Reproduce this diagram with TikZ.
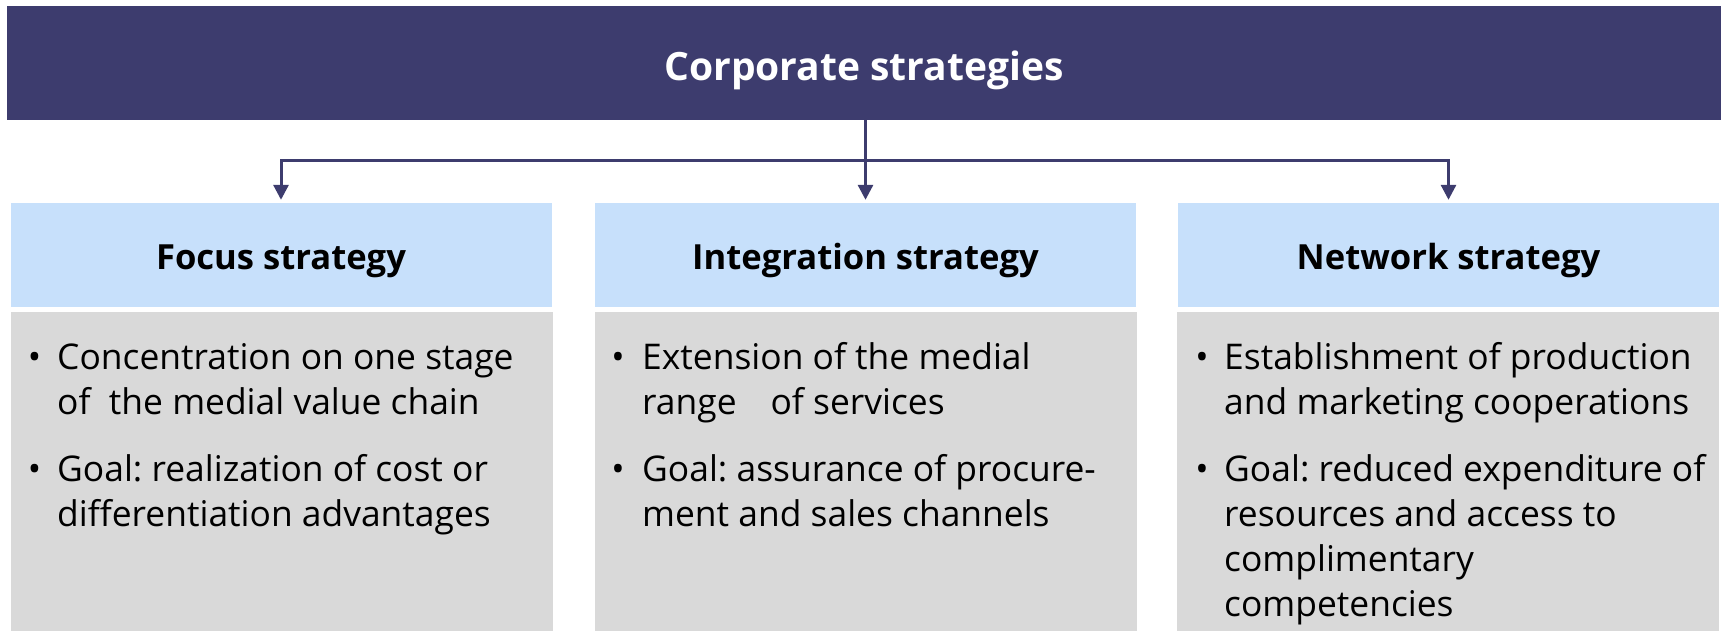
\documentclass[tikz,border=0pt]{standalone}
\usepackage{fontspec}
\setmainfont{Open Sans}
\frenchspacing
\usetikzlibrary{arrows.meta}
\definecolor{navy}{RGB}{61,60,110}
\definecolor{lightblue}{RGB}{199,224,251}
\definecolor{boxgray}{RGB}{217,217,217}
\tikzset{
  topbar/.style={fill=navy, draw=none, inner sep=0pt, minimum width=1714pt, minimum height=114pt,
    text=white, font=\fontsize{39}{45}\selectfont\bfseries, text height=34pt, text depth=0pt},
  headbox/.style={fill=lightblue, draw=none, inner sep=0pt, minimum width=541pt, minimum height=104pt,
    font=\fontsize{34.6}{45}\selectfont\bfseries, text height=28pt, text depth=0pt},
  graybox/.style={fill=boxgray, draw=none, inner sep=0pt, minimum width=542pt, minimum height=330pt, anchor=north},
  bulletmark/.style={inner sep=0pt, anchor=base, font=\fontsize{35.4}{45}\selectfont},
  itemtext/.style={inner sep=0pt, anchor=base west, align=left, font=\fontsize{35.4}{45}\selectfont\frenchspacing},
  conn/.style={draw=navy, line width=3pt, -{Triangle[width=15pt,length=15pt]}},
}
\begin{document}
\begin{tikzpicture}[x=1pt,y=-1pt]
\useasboundingbox (0,0) rectangle (1721,630);
\begin{scope}
\clip (0,0) rectangle (1721,630);
% top bar
\node[topbar] (top) at (864,63) {Corporate strategies};
% heading boxes
\node[headbox] (h1) at (281,255) {Focus strategy};
\node[headbox] (h2) at (865.5,255) {Integration strategy};
\node[headbox] (h3) at (1448.5,255) {Network strategy};
% gray boxes
\node[graybox] (g1) at (281.5,312) {};
\node[graybox] (g2) at (866,312) {};
\node[graybox] (g3) at (1448,312) {};
\end{scope}
% connectors
\coordinate (j) at (865.5,160);
\draw[conn] (top.south -| h2.north) -- ([yshift=3pt]h2.north);
\draw[conn] (j) -| ([yshift=3pt]h1.north);
\draw[conn] (j) -| ([yshift=3pt]h3.north);
% column 1 (item nodes anchored at the baseline of their last line)
\node[bulletmark] (b11) at (34.5,369) {•};
\node[itemtext] (t11) at (57,414) {Concentration on one stage\\of\ \ the medial value chain};
\node[bulletmark] (b12) at (34.5,481) {•};
\node[itemtext] (t12) at (57,526) {Goal: realization of cost or\\differentiation advantages};
% column 2
\node[bulletmark] (b21) at (618,369) {•};
\node[itemtext] (t21) at (642,414) {Extension of the medial\\range\hspace{34pt}of services};
\node[bulletmark] (b22) at (618,481) {•};
\node[itemtext] (t22) at (642,526) {Goal: assurance of procure-\\ment and sales channels};
% column 3
\node[bulletmark] (b31) at (1202,369) {•};
\node[itemtext] (t31) at (1224,414) {Establishment of production\\and marketing cooperations};
\node[bulletmark] (b32) at (1202,481) {•};
\node[itemtext] (t32) at (1224,616) {Goal: reduced expenditure of\\resources and access to\\complimentary\\competencies};
\end{tikzpicture}
\end{document}
